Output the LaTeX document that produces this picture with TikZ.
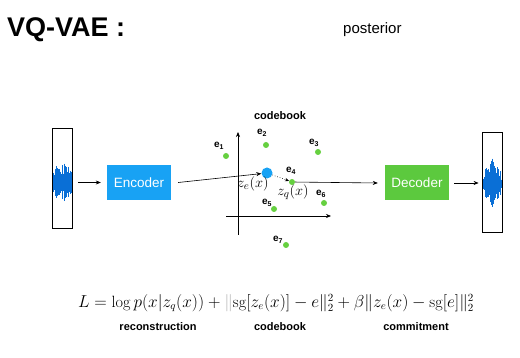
\documentclass[tikz,border=0pt]{standalone}
\usepackage{fontspec}
\usepackage{xcolor}
\usetikzlibrary{arrows.meta}
\newfontfamily\hel{Liberation Sans}
\definecolor{VQBlue}{HTML}{18A2F4}
\definecolor{VQGreen}{HTML}{5CC93E}
\definecolor{VQDot}{HTML}{66D040}
\definecolor{VQWave}{HTML}{0A6FD6}

\begin{document}
\begin{tikzpicture}[x=1pt,y=-1pt,
  font=\hel,
  netbox/.style={minimum width=64pt,minimum height=35pt,inner sep=0pt,text=white,font=\hel\fontsize{13.5}{15}\selectfont},
  wavebox/.style={draw,line width=0.8pt,minimum width=20pt,minimum height=100pt,inner sep=0pt},
  codedot/.style={circle,fill=VQDot,inner sep=0pt,minimum size=6pt},
  codelbl/.style={font=\hel\bfseries\fontsize{10}{11}\selectfont,inner sep=1pt},
  flow/.style={-{Stealth[length=5pt,width=4pt]},line width=0.6pt},
  termlbl/.style={font=\hel\bfseries\fontsize{11}{13}\selectfont}]
\path[use as bounding box] (0,0) rectangle (520,358);
% title
\node[anchor=base west,font=\hel\bfseries\fontsize{27}{30}\selectfont,inner sep=0pt] (title) at (7,37) {VQ-VAE :};
\node[anchor=base west,font=\hel\fontsize{15}{17}\selectfont,inner sep=0pt] (post) at (343,34) {posterior};
% waveforms
\node[wavebox] (wavL) at (62,178.5) {};
\node[wavebox] (wavR) at (492,182) {};
\pgfmathsetseed{7}
\foreach \w/\c in {wavL/183,wavR/184}{
  \foreach \k in {0,...,36}{
    \pgfmathsetmacro{\xx}{0.5*\k-9}
    \pgfmathsetmacro{\amp}{(6+20*rnd)*(1-abs(\xx)/16)}
    \draw[VQWave,line width=0.6pt] ([xshift=\xx pt]\w.center |- 0,\c-\amp) -- ([xshift=\xx pt]\w.center |- 0,\c+\amp*0.9);
  }
}
% encoder / decoder
\node[netbox,fill=VQBlue] (enc) at (139,182.5) {Encoder};
\node[netbox,fill=VQGreen] (dec) at (417,183) {Decoder};
% codebook axes
\coordinate (vbot) at (238,235);
\coordinate (vtop) at (238,132);
\coordinate (hleft) at (226,216);
\coordinate (hright) at (331,216);
\draw[flow] (vbot) -- (vtop);
\draw[flow] (hleft) -- (hright);
\node[codelbl,font=\hel\bfseries\fontsize{11}{12}\selectfont] (cb) at (280,116) {codebook};
% code vectors
\foreach \n/\x/\y/\lx/\ly in {1/226/156/219/146, 2/266/145/262/133, 3/318/152/314/143,
  4/292/182/291/171, 5/274/209/267/203, 6/324/203/321/194, 7/286/245/278/240}{
  \node[codedot] (e\n) at (\x,\y) {};
  \node[codelbl] (le\n) at (\lx,\ly) {e\textsubscript{\n}};
}
\node[circle,fill=VQBlue,inner sep=0pt,minimum size=11pt] (ze) at (267,173) {};
\node[font=\fontsize{15}{17}\selectfont,inner sep=0pt] (zel) at (253,184) {$z_e(x)$};
\node[font=\fontsize{15}{17}\selectfont,inner sep=0pt] (zql) at (293,192) {$z_q(x)$};
% connectors
\draw[flow] (wavL.east |- enc.west) ++(6,0) coordinate (a0) -- ([xshift=-6pt]enc.west);
\draw[flow] ([xshift=7pt]enc.east) -- (ze);
\draw[flow,dotted,-{Stealth[length=4pt,width=3.5pt]}] (ze) -- (e4);
\draw[flow] (e4) -- ([xshift=-7pt]dec.west);
\draw[flow] ([xshift=5pt]dec.east) -- ([xshift=-3pt]wavR.west |- dec.east);
% loss
\node[font=\fontsize{16.3}{19}\selectfont,inner sep=0pt] (loss) at (276,303)
  {$L = \log p(x|z_q(x)) + \textcolor{gray!60}{\|}\mathrm{sg}[z_e(x)] - e\|_2^2 + \beta\|z_e(x) - \mathrm{sg}[e]\|_2^2$};
\node[termlbl] (lrec) at (158,327) {reconstruction};
\node[termlbl] (lcb) at (280,327) {codebook};
\node[termlbl] (lcom) at (416,327) {commitment};
\end{tikzpicture}
\end{document}
